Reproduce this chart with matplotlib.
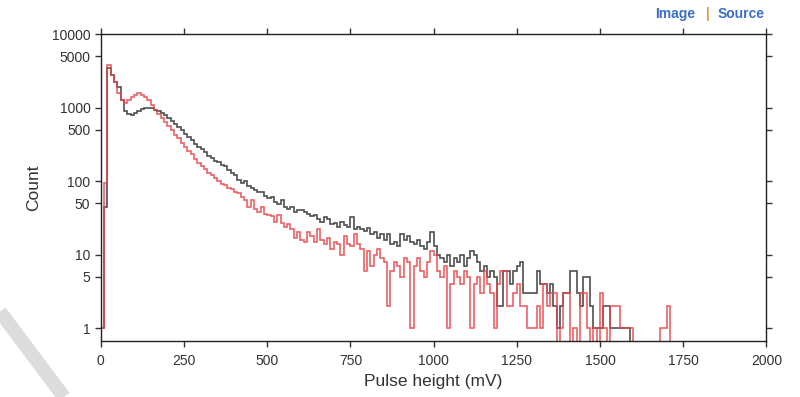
import numpy as np
import matplotlib.pyplot as plt
from matplotlib.lines import Line2D

# histogram bins (mV), 10 mV wide starting at 0
bin_width = 10
bin_start = 0

black_counts = [
    1, 44, 3450, 2750, 2200, 1900, 1250, 900, 820, 790,
    850, 900, 950, 1000, 1000, 980, 940, 900, 840, 790,
    720, 660, 600, 540, 490, 440, 400, 360, 320, 290,
    270, 250, 220, 205, 190, 180, 165, 160, 140, 130,
    120, 105, 95, 100, 85, 80, 75, 70, 72, 62,
    58, 60, 52, 48, 55, 45, 42, 45, 38, 40,
    41, 38, 36, 33, 35, 30, 28, 32, 30, 26,
    27, 24, 28, 25, 24, 32, 22, 24, 22, 21,
    23, 19, 20, 17, 19, 16, 19, 14, 15, 13,
    19, 16, 18, 15, 14, 16, 13, 12, 15, 20,
    13, 10, 9, 8, 10, 7, 9, 8, 10, 7,
    9, 11, 10, 8, 6, 7, 5, 6, 5, 2,
    2, 6, 6, 4, 6, 7, 8, 3, 3, 3,
    3, 6, 4, 4, 3, 4, 2, 1, 2, 3,
    3, 6, 6, 3, 2, 5, 5, 2, 1, 1,
    1, 2, 2, 1, 1, 1, 1, 1, 1, 0,
    0, 0, 0, 0, 0, 0, 0, 0, 0, 0,
    0, 0,
]

red_counts = [
    1, 93, 3800, 2750, 2230, 1600, 1260, 1150, 1250, 1380,
    1500, 1580, 1500, 1400, 1250, 1100, 940, 820, 720, 640,
    560, 490, 430, 380, 330, 290, 260, 230, 200, 175,
    160, 145, 130, 120, 110, 100, 92, 88, 80, 78,
    70, 68, 60, 55, 45, 55, 42, 38, 45, 36,
    34, 33, 28, 35, 27, 24, 26, 22, 17, 20,
    16, 15, 20, 18, 15, 22, 16, 14, 17, 12,
    15, 14, 10, 18, 14, 13, 19, 14, 12, 6,
    11, 7, 10, 12, 9, 8, 2, 6, 8, 7,
    5, 9, 8, 1, 7, 9, 6, 5, 8, 11,
    10, 6, 5, 7, 1, 4, 6, 5, 4, 6,
    5, 1, 4, 5, 3, 6, 4, 3, 1, 4,
    6, 6, 2, 2, 3, 4, 2, 2, 1, 1,
    1, 2, 1, 4, 2, 3, 3, 0, 1, 3,
    3, 0, 1, 0, 3, 3, 1, 0, 1, 0,
    3, 1, 0, 2, 2, 2, 1, 1, 1, 1,
    0, 0, 0, 0, 0, 0, 0, 0, 1, 1,
    2, 0,
]

x_ticks = [0, 250, 500, 750, 1000, 1250, 1500, 1750, 2000]
y_ticks = [1, 5, 10, 50, 100, 500, 1000, 5000, 10000]

plt.rcParams['font.family'] = ['Liberation Sans', 'DejaVu Sans']

fig = plt.figure(figsize=(8, 3.97), dpi=100)
ax = fig.add_axes([0.126, 0.141, 0.832, 0.773])

edges = bin_start + bin_width * np.arange(len(black_counts) + 1)
black = np.array(black_counts, dtype=float)
red = np.array(red_counts, dtype=float)
# zero counts drop below the axis on a log scale
black_plot = np.where(black > 0, black, 0.3)
red_plot = np.where(red > 0, red, 0.3)

ax.stairs(black_plot, edges, color='#3c3c3c', lw=1.2, alpha=0.9, baseline=None)
ax.stairs(red_plot, edges, color='#e8464b', lw=1.2, alpha=0.85, baseline=None)

ax.set_yscale('log')
ax.set_xlim(0, 2000)
ax.set_ylim(0.665, 10000)
ax.set_xticks(x_ticks)
ax.set_xticklabels([str(t) for t in x_ticks])
ax.set_yticks(y_ticks)
ax.set_yticklabels([str(t) for t in y_ticks])
ax.minorticks_off()
ax.tick_params(axis='both', direction='out', length=4, width=1, labelsize=10,
               top=True, right=True, colors='#333333')
ax.tick_params(axis='x', pad=5)
for spine in ax.spines.values():
    spine.set_linewidth(1)
    spine.set_color('#222222')

ax.set_xlabel('Pulse height (mV)', fontsize=12.5, color='#333333', labelpad=5)
ax.set_ylabel('Count', fontsize=12.5, color='#333333', labelpad=8)

# header links
fig.text(0.819, 0.965, 'Image', color='#3a6fc4', fontsize=10, fontweight='bold', va='center')
fig.text(0.882, 0.965, '|', color='#e0a040', fontsize=10, fontweight='bold', va='center')
fig.text(0.897, 0.965, 'Source', color='#3a6fc4', fontsize=10, fontweight='bold', va='center')

# light grey diagonal band in lower left corner
fig.add_artist(Line2D([0.0, 0.08], [0.215, 0.0], transform=fig.transFigure,
                      color='#dcdcdc', lw=10, solid_capstyle='butt', zorder=0))

fig.savefig('out.png', dpi=100)
